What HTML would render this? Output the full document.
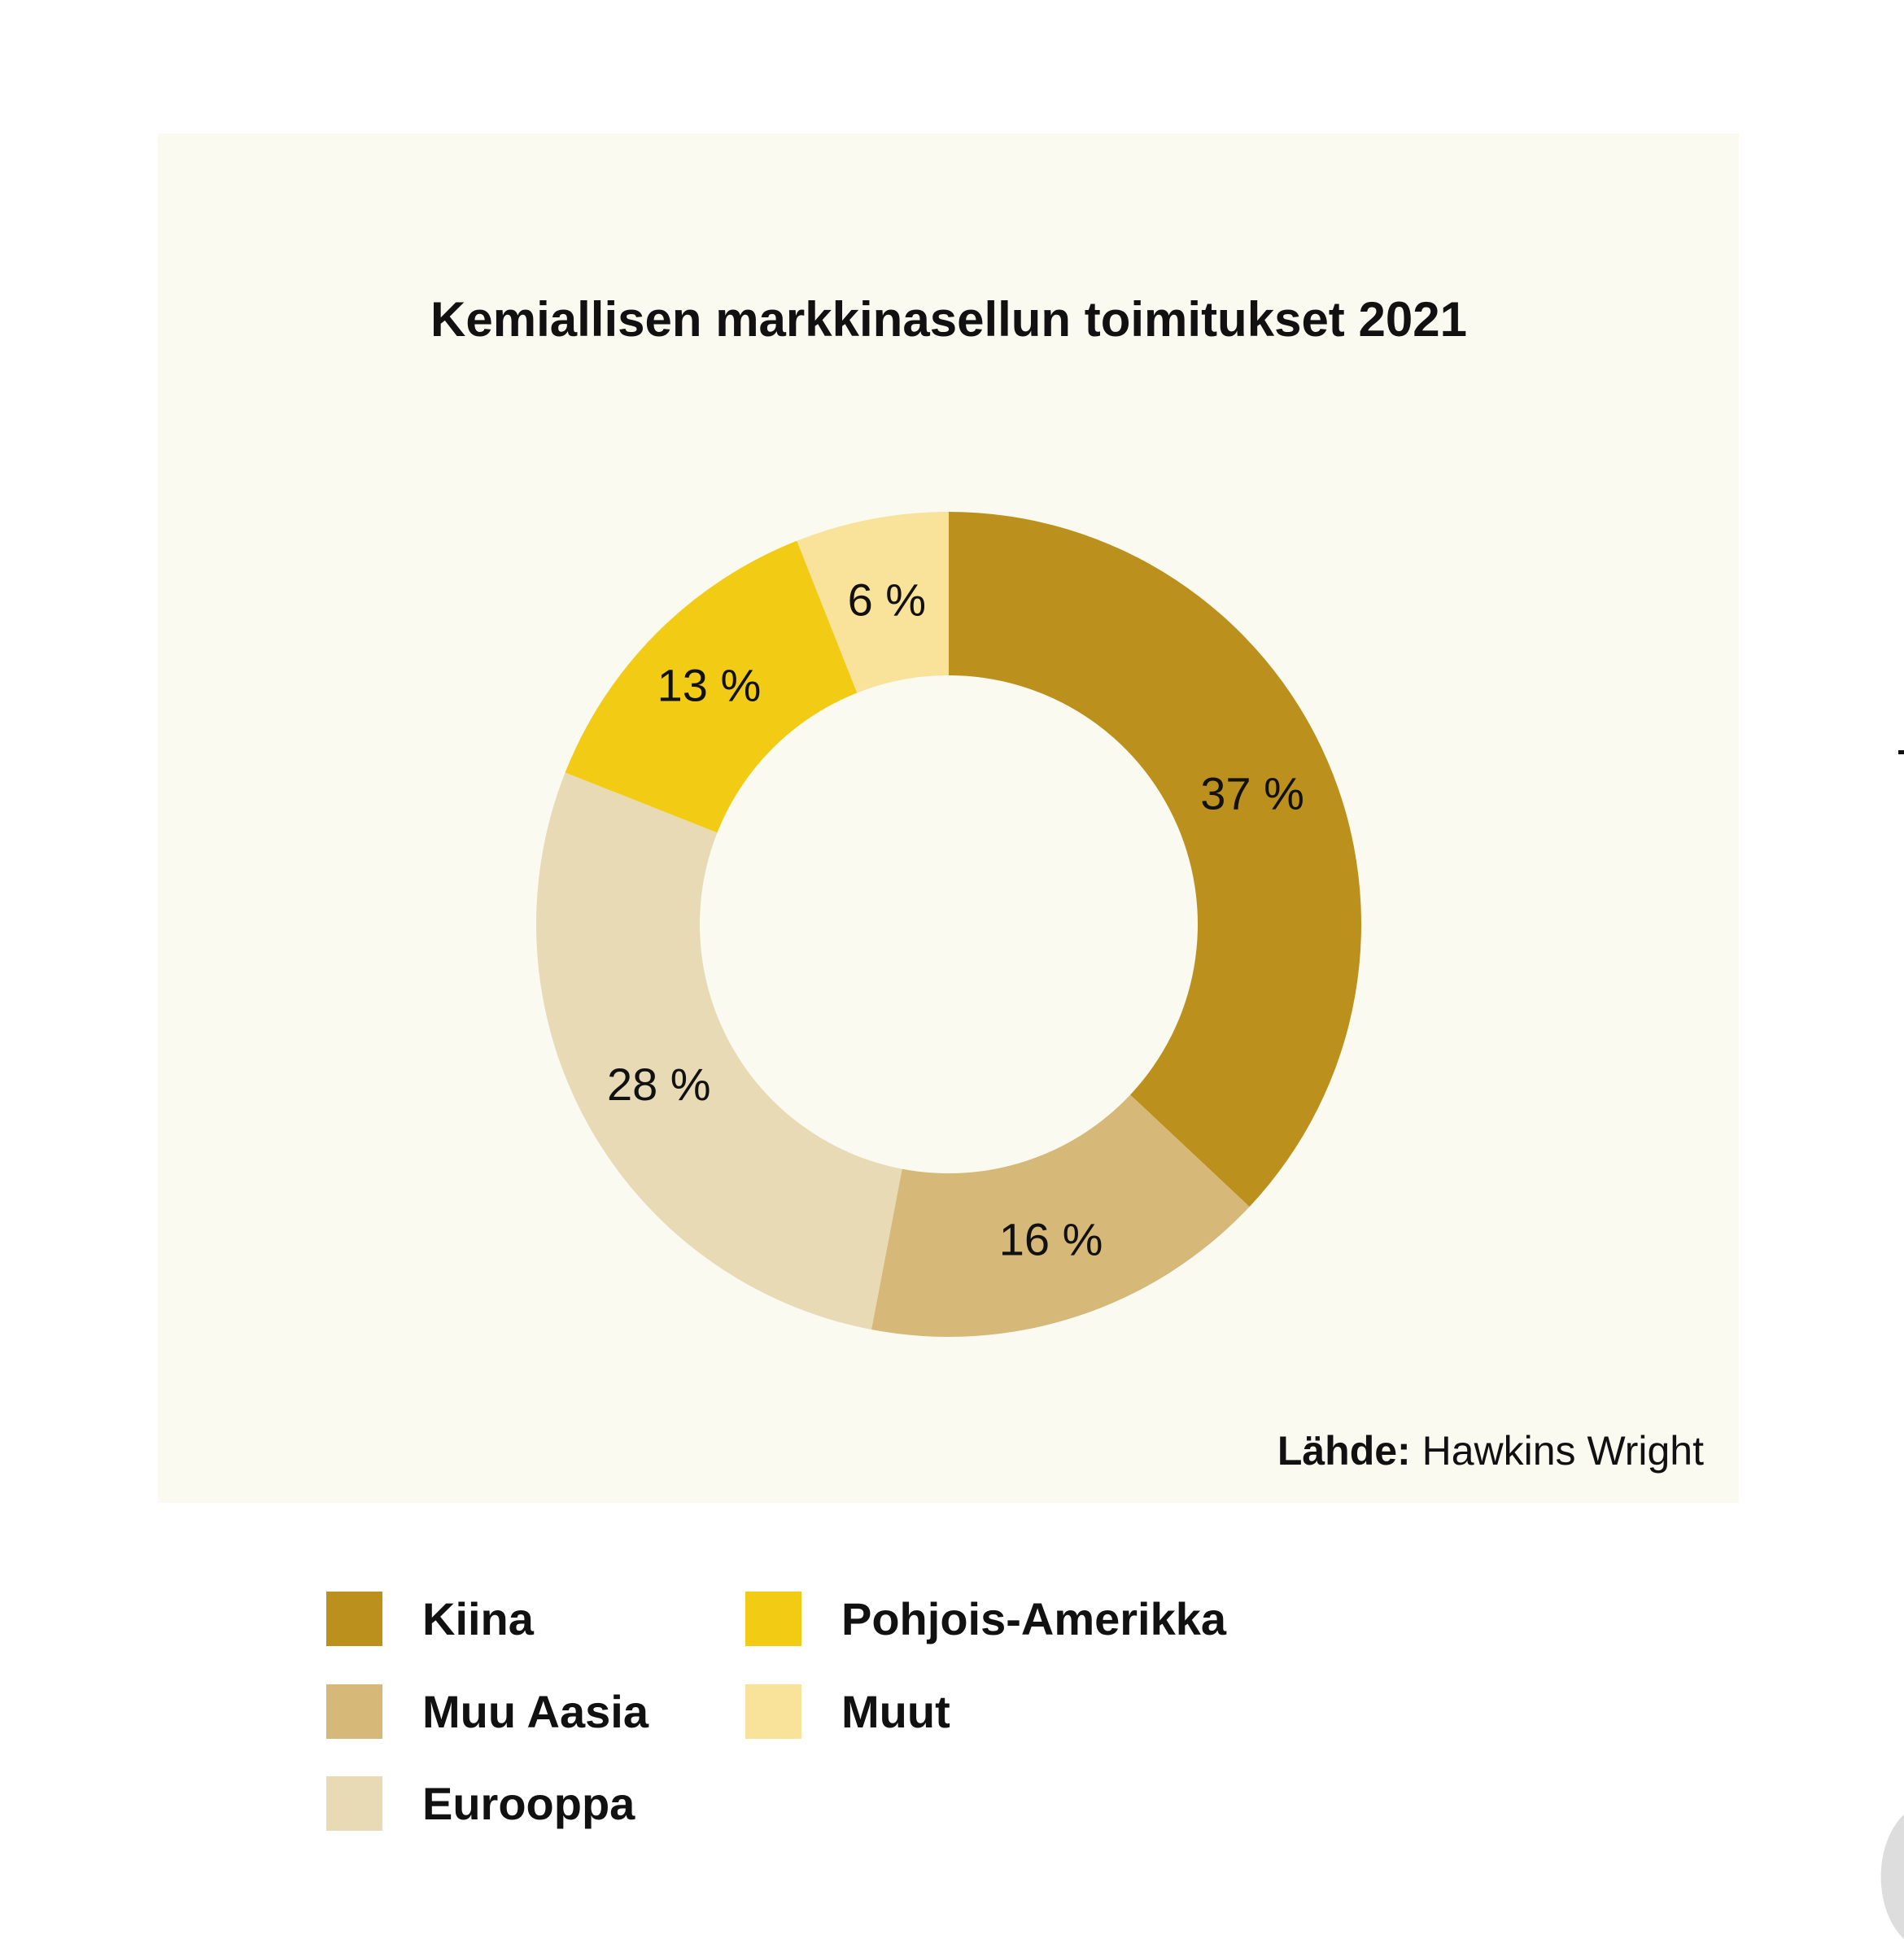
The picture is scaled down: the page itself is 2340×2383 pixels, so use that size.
<!DOCTYPE html>
<html><head><meta charset="utf-8"><style>
html,body{margin:0;padding:0;background:#fff;}
svg{display:block;font-family:"Liberation Sans",sans-serif;}
</style></head><body>
<svg width="2340" height="2383" viewBox="0 0 2340 2383">
<rect x="194" y="164" width="1943" height="1683" fill="#FBFAF1"/>
<text x="1166" y="413" text-anchor="middle" font-size="60" font-weight="bold" fill="#111">Kemiallisen markkinasellun toimitukset 2021</text>
<g id="donut"></g>
<text x="2094" y="1800" text-anchor="end" font-size="50" fill="#111"><tspan font-weight="bold">Lähde:</tspan> Hawkins Wright</text>
<g id="legend"></g>
<path d="M2340 2230 A 60 90 0 0 0 2340 2383" fill="#ddd"/>
<rect x="2333" y="922" width="7" height="5" fill="#111"/>
</svg>
<script>
const categories=["Kiina","Muu Aasia","Eurooppa","Pohjois-Amerikka","Muut"];
const values=[37,16,28,13,6];
const labels=["37 %","16 %","28 %","13 %","6 %"];
const colors=["#BC901C","#D6B878","#E8DAB4","#F2CB15","#F9E29A"];
const NS="http://www.w3.org/2000/svg";
const cx=1166,cy=1136,R=507,r=306;
const total=values.reduce((a,b)=>a+b,0);
const g=document.getElementById('donut');
function pt(rad,a){return [cx+rad*Math.sin(a),cy-rad*Math.cos(a)];}
let acc=0;
values.forEach((v,i)=>{
  const a0=acc/total*2*Math.PI, a1=(acc+v)/total*2*Math.PI; acc+=v;
  const large=(a1-a0)>Math.PI?1:0;
  const [x0,y0]=pt(R,a0),[x1,y1]=pt(R,a1),[x2,y2]=pt(r,a1),[x3,y3]=pt(r,a0);
  const p=document.createElementNS(NS,'path');
  p.setAttribute('d',`M${x0} ${y0} A${R} ${R} 0 ${large} 1 ${x1} ${y1} L${x2} ${y2} A${r} ${r} 0 ${large} 0 ${x3} ${y3}Z`);
  p.setAttribute('fill',colors[i]);
  
  
  g.appendChild(p);
  const am=(a0+a1)/2;
  const [lx,ly]=pt((R+r)/2+(i==3?10:0),am);
  const t=document.createElementNS(NS,'text');
  t.setAttribute('x',lx);t.setAttribute('y',ly+20);
  t.setAttribute('text-anchor','middle');t.setAttribute('font-size','56');t.setAttribute('fill','#111');
  t.textContent=labels[i];
  
  
  g.appendChild(t);
});
const lg=document.getElementById('legend');
const pos=[[401,1989],[401,2103],[401,2216],[916,1989],[916,2103]];
categories.forEach((c,i)=>{
  const [x,y]=pos[i];
  const s=document.createElementNS(NS,'rect');
  s.setAttribute('x',x);s.setAttribute('y',y-33);s.setAttribute('width',69);s.setAttribute('height',67);
  s.setAttribute('fill',colors[i]);
  
  
  lg.appendChild(s);
  const t=document.createElementNS(NS,'text');
  t.setAttribute('x',x+118);t.setAttribute('y',y+20);
  t.setAttribute('font-size','56');t.setAttribute('font-weight','bold');t.setAttribute('fill','#111');
  t.textContent=c;
  
  
  lg.appendChild(t);
});
</script>
</body></html>
